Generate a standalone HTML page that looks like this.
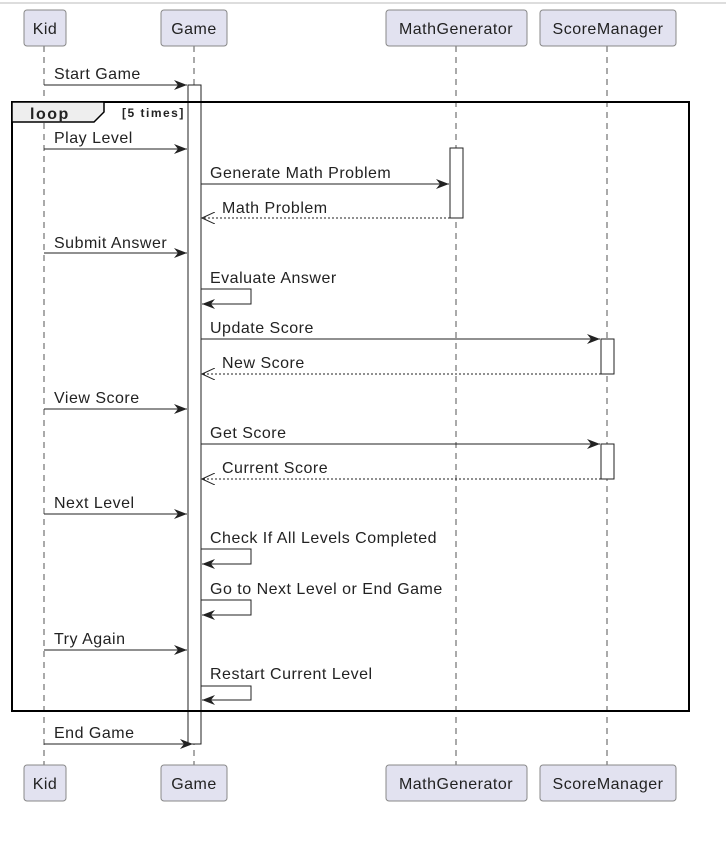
<!DOCTYPE html>
<html><head><meta charset="utf-8"><style>
html,body{margin:0;padding:0;background:#fff;width:726px;height:855px;overflow:hidden}
text{font-family:"Liberation Sans",sans-serif;font-size:16px;letter-spacing:0.5px;fill:#222}
</style></head><body>
<svg width="726" height="855" viewBox="0 0 726 855" xmlns="http://www.w3.org/2000/svg">
<defs>
<marker id="a" markerWidth="14" markerHeight="10" refX="13" refY="5" orient="auto" markerUnits="userSpaceOnUse"><path d="M0,0 L13,5 L0,10 L4,5 Z" fill="#222"/></marker>
<marker id="o" markerWidth="14" markerHeight="12" refX="13" refY="6" orient="auto" markerUnits="userSpaceOnUse"><path d="M0,0 L13,6 L0,12" fill="none" stroke="#222" stroke-width="1"/></marker>
</defs>
<line x1="0" y1="3" x2="726" y2="3" stroke="#ddd" stroke-width="2"/>
<g stroke="#555" stroke-dasharray="6,5" stroke-width="1">
<line x1="44" y1="46" x2="44" y2="765"/><line x1="194" y1="46" x2="194" y2="765"/>
<line x1="456" y1="46" x2="456" y2="765"/><line x1="607" y1="46" x2="607" y2="765"/>
</g>
<g fill="#e2e2f0" stroke="#888" stroke-width="1">
<rect x="24" y="10" width="42" height="36" rx="3"/><rect x="161" y="10" width="66" height="36" rx="3"/>
<rect x="386" y="10" width="141" height="36" rx="3"/><rect x="540" y="10" width="136" height="36" rx="3"/>
<rect x="24" y="765" width="42" height="36" rx="3"/><rect x="161" y="765" width="66" height="36" rx="3"/>
<rect x="386" y="765" width="141" height="36" rx="3"/><rect x="540" y="765" width="136" height="36" rx="3"/>
</g>
<g text-anchor="middle" style="font-size:17px;letter-spacing:0.8px">
<text x="45" y="34">Kid</text><text x="194" y="34">Game</text><text x="456" y="34">MathGenerator</text><text x="608" y="34">ScoreManager</text>
<text x="45" y="789">Kid</text><text x="194" y="789">Game</text><text x="456" y="789">MathGenerator</text><text x="608" y="789">ScoreManager</text>
</g>
<g fill="#fff" stroke="#222" stroke-width="1">
<rect x="188" y="85" width="13" height="659"/>
<rect x="450" y="148" width="13" height="70"/>
<rect x="601" y="339" width="13" height="35"/>
<rect x="601" y="444" width="13" height="35"/>
</g>
<rect x="12" y="102" width="677" height="609" fill="none" stroke="#000" stroke-width="2"/>
<path d="M12,102 L104,102 L104,112 L94,122 L12,122 Z" fill="#eee" stroke="#000" stroke-width="1.5"/>
<text x="30" y="119" style="font-weight:bold;font-size:16px;letter-spacing:1.5px">loop</text>
<text x="122" y="117" style="font-weight:bold;font-size:12px;letter-spacing:1.5px">[5 times]</text>
<g stroke="#222" stroke-width="1" fill="none">
<line x1="44" y1="85" x2="187" y2="85" marker-end="url(#a)"/>
<line x1="44" y1="149" x2="187" y2="149" marker-end="url(#a)"/>
<line x1="201" y1="184" x2="449" y2="184" marker-end="url(#a)"/>
<line x1="450" y1="218" x2="202" y2="218" stroke-dasharray="2,2" marker-end="url(#o)"/>
<line x1="44" y1="253" x2="187" y2="253" marker-end="url(#a)"/>
<path d="M201,289 H251 V304 H202" marker-end="url(#a)"/>
<line x1="201" y1="339" x2="600" y2="339" marker-end="url(#a)"/>
<line x1="601" y1="374" x2="202" y2="374" stroke-dasharray="2,2" marker-end="url(#o)"/>
<line x1="44" y1="409" x2="187" y2="409" marker-end="url(#a)"/>
<line x1="201" y1="444" x2="600" y2="444" marker-end="url(#a)"/>
<line x1="601" y1="479" x2="202" y2="479" stroke-dasharray="2,2" marker-end="url(#o)"/>
<line x1="44" y1="514" x2="187" y2="514" marker-end="url(#a)"/>
<path d="M201,549 H251 V564 H202" marker-end="url(#a)"/>
<path d="M201,600 H251 V615 H202" marker-end="url(#a)"/>
<line x1="44" y1="650" x2="187" y2="650" marker-end="url(#a)"/>
<path d="M201,686 H251 V700 H202" marker-end="url(#a)"/>
<line x1="44" y1="744" x2="193" y2="744" marker-end="url(#a)"/>
</g>
<text x="54" y="79">Start Game</text>
<text x="54" y="143">Play Level</text>
<text x="210" y="178">Generate Math Problem</text>
<text x="222" y="213">Math Problem</text>
<text x="54" y="248">Submit Answer</text>
<text x="210" y="283">Evaluate Answer</text>
<text x="210" y="333">Update Score</text>
<text x="222" y="368">New Score</text>
<text x="54" y="403">View Score</text>
<text x="210" y="438">Get Score</text>
<text x="222" y="473">Current Score</text>
<text x="54" y="508">Next Level</text>
<text x="210" y="543">Check If All Levels Completed</text>
<text x="210" y="594">Go to Next Level or End Game</text>
<text x="54" y="644">Try Again</text>
<text x="210" y="679">Restart Current Level</text>
<text x="54" y="738">End Game</text>
</svg>
</body></html>
